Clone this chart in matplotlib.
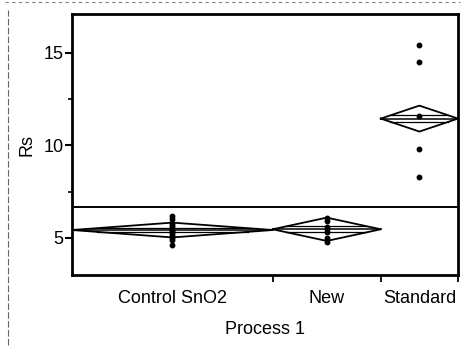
import matplotlib
matplotlib.use("Agg")
import matplotlib.pyplot as plt
import numpy as np
from matplotlib.lines import Line2D

plt.rcParams['font.family'] = ['Liberation Sans', 'DejaVu Sans']

# ---- data ----
groups = ["Control SnO2", "New", "Standard"]
group_n = [13, 7, 5]
control_vals = [6.2, 6.0, 5.8, 5.7, 5.6, 5.5, 5.4, 5.3, 5.2, 5.1, 5.0, 4.9, 4.6]
new_vals = [6.1, 5.9, 5.6, 5.5, 5.3, 5.0, 4.8]
standard_vals = [15.4, 14.5, 11.6, 9.8, 8.3]
group_means = [5.43, 5.47, 11.45]
ci_half = [0.40, 0.63, 0.70]
grand_mean = 6.67
y_ticks = [5, 10, 15]
y_minor = [7.5, 12.5]
x_label = "Process 1"
y_label = "Rs"

values = [control_vals, new_vals, standard_vals]

fig = plt.figure(figsize=(4.66, 3.57), dpi=100)
ax = fig.add_axes([72/466, 1-275/357, (458-72)/466, (275-14)/357])

edges = np.concatenate([[0], np.cumsum(group_n)])
total = edges[-1]
ax.set_xlim(0, total)
ax.set_ylim(3.0, 17.1)

# grand mean line
ax.axhline(grand_mean, color='black', lw=1.4, zorder=2)

for i, vals in enumerate(values):
    left, right = edges[i], edges[i+1]
    c = (left + right) / 2
    hw = (right - left) / 2
    m = group_means[i]
    h = ci_half[i]
    # diamond
    ax.plot([left, c, right, c, left], [m, m + h, m, m - h, m],
            color='black', lw=1.3, zorder=3)
    # mean line
    ax.plot([left, right], [m, m], color='black', lw=1.1, zorder=3)
    # inner marks
    f = 0.25
    for s in (1, -1):
        ax.plot([c - hw*(1-f), c + hw*(1-f)], [m + s*f*h, m + s*f*h],
                color='black', lw=0.9, zorder=3)
    # points
    ax.plot([c]*len(vals), vals, 'o', color='black', ms=3.2, zorder=4)

# ticks
ax.set_yticks(y_ticks)
ax.set_yticks(y_minor, minor=True)
ax.set_yticklabels([str(t) for t in y_ticks], fontsize=13)
ax.tick_params(axis='y', which='major', direction='out', length=5, width=1.5, pad=1)
ax.tick_params(axis='y', which='minor', direction='out', length=3, width=1.2)

ax.set_xticks(edges[1:])
ax.set_xticklabels([])
ax.tick_params(axis='x', which='major', direction='out', length=5, width=1.3)
centers = (edges[:-1] + edges[1:]) / 2
for cx, g in zip(centers, groups):
    ax.text(cx, -0.09, g, transform=ax.get_xaxis_transform(),
            ha='center', va='center', fontsize=13)

for sp in ax.spines.values():
    sp.set_linewidth(2.0)

fig.text(27/466, 1-145/357, y_label, rotation=90, ha='center', va='center', fontsize=13)
fig.text(265/466, 1-330/357, x_label, ha='center', va='center', fontsize=13)

# scan border artefacts
fig.add_artist(Line2D([8/466, 8/466], [1-345/357, 1-10/357], transform=fig.transFigure,
                      color='black', lw=0.8, ls=(0, (6, 2)), alpha=0.6))
fig.add_artist(Line2D([5/466, 460/466], [1-2/357, 1-2/357], transform=fig.transFigure,
                      color='black', lw=0.8, ls=(0, (3, 3)), alpha=0.5))

fig.savefig("out.png", dpi=100)
